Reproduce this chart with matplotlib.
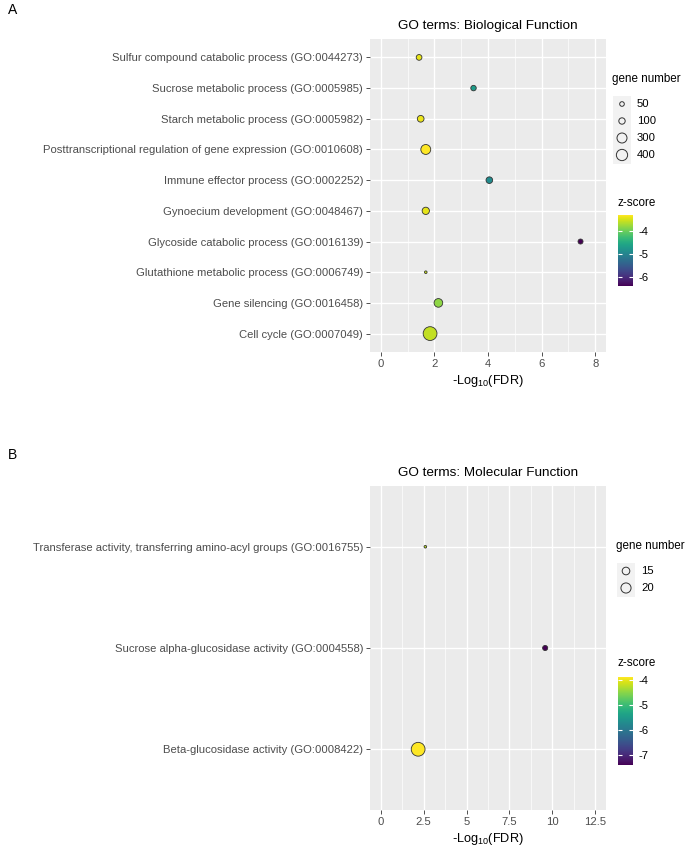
import numpy as np
import matplotlib.pyplot as plt
from matplotlib import colors, cm
from matplotlib.patches import Rectangle

plt.rcParams['font.family'] = ['Liberation Sans', 'DejaVu Sans']
plt.rcParams['mathtext.fontset'] = 'custom'
plt.rcParams['mathtext.rm'] = 'Liberation Sans'
plt.rcParams['mathtext.it'] = 'Liberation Sans:italic'

# ---- data (top to bottom as shown) ----
bp_terms = ["Sulfur compound catabolic process (GO:0044273)",
            "Sucrose metabolic process (GO:0005985)",
            "Starch metabolic process (GO:0005982)",
            "Posttranscriptional regulation of gene expression (GO:0010608)",
            "Immune effector process (GO:0002252)",
            "Gynoecium development (GO:0048467)",
            "Glycoside catabolic process (GO:0016139)",
            "Glutathione metabolic process (GO:0006749)",
            "Gene silencing (GO:0016458)",
            "Cell cycle (GO:0007049)"]
bp_fdr = [1.43, 3.46, 1.49, 1.68, 4.05, 1.68, 7.45, 1.68, 2.15, 1.84]
bp_genes = [78, 70, 113, 293, 110, 138, 59, 30, 210, 650]
bp_z = [-3.40, -4.69, -3.38, -3.29, -4.91, -3.42, -6.40, -3.55, -3.82, -3.57]
bp_size_breaks = [50, 100, 300, 400]
bp_z_ticks = [-4, -5, -6]

mf_terms = ["Transferase activity, transferring amino-acyl groups (GO:0016755)",
            "Sucrose alpha-glucosidase activity (GO:0004558)",
            "Beta-glucosidase activity (GO:0008422)"]
mf_fdr = [2.6, 9.58, 2.18]
mf_genes = [11, 12, 31]
mf_z = [-4.22, -7.40, -3.87]
mf_size_breaks = [15, 20]
mf_z_ticks = [-4, -5, -6, -7]

W, H = 685, 849
TXT = 8.1
fig = plt.figure(figsize=(W / 100, H / 100), dpi=100)


def fax(x0, y0, x1, y1):
    return fig.add_axes([x0 / W, 1 - y1 / H, (x1 - x0) / W, (y1 - y0) / H])


def diam(n, lo, hi):
    # ggplot-like area scaling, diameter in px
    t = (np.asarray(n, float) - lo) / (hi - lo)
    return 2.6 + 11.2 * np.sqrt(np.clip(t, 0, None))


def to_s(d_px):
    return (np.asarray(d_px) * 72 / 100) ** 2


def panel(box, terms, fdr, genes, z, xmax, xstep, title):
    ax = fax(*box)
    n = len(terms)
    y = np.arange(n)[::-1]
    norm = colors.Normalize(min(z), max(z))
    ax.scatter(fdr, y, s=to_s(diam(genes, min(genes), max(genes))), c=z,
               cmap='viridis', norm=norm, edgecolors='#333333',
               linewidths=0.6, zorder=3)
    ax.set_facecolor('#EBEBEB')
    for sp in ax.spines.values():
        sp.set_visible(False)
    ax.set_xlim(-0.05 * xmax, 1.05 * xmax)
    ax.set_ylim(-0.6, n - 0.4)
    ax.set_yticks(y)
    ax.set_yticklabels(terms)
    major = np.arange(0, xmax + 0.01, xstep)
    ax.set_xticks(major)
    ax.set_xticks(np.arange(xstep / 2, xmax + xstep / 2, xstep), minor=True)
    ax.set_xticklabels(['%g' % v for v in major])
    ax.grid(which='major', color='white', lw=1.0, zorder=0)
    ax.grid(which='minor', axis='x', color='white', lw=0.5, zorder=0)
    ax.set_axisbelow(True)
    ax.tick_params(which='major', length=3, width=0.6, color='#333333',
                   labelsize=TXT, labelcolor='#4D4D4D', pad=2)
    ax.tick_params(which='minor', length=0)
    ax.set_title(title, fontsize=9.7, pad=7)
    ax.set_xlabel(r'-Log$_{10}$(FDR)', fontsize=9.2, labelpad=3)
    return norm


def size_legend(ov, x0, ytitle, ykey0, breaks, lo, hi):
    ov.text(x0, ytitle, 'gene number', fontsize=8.4, va='center', ha='left')
    ov.add_patch(Rectangle((x0 + 1, ykey0 - 8.5), 18, 17 * len(breaks),
                           facecolor='#F2F2F2', edgecolor='none'))
    ys = ykey0 + 17 * np.arange(len(breaks))
    ov.scatter([x0 + 10] * len(breaks), ys, s=to_s(diam(breaks, lo, hi)),
               facecolors='none', edgecolors='#333333', linewidths=0.7)
    for yy, b in zip(ys, breaks):
        ov.text(x0 + 25, yy, str(b), fontsize=TXT, va='center', ha='left')


def zbar(x0, ytitle, ytop, ybot, norm, ticks):
    fig.text(x0 / W, 1 - ytitle / H, 'z-score', fontsize=8.4, va='center')
    cax = fax(x0 + 1, ytop, x0 + 16, ybot)
    cb = fig.colorbar(cm.ScalarMappable(norm=norm, cmap='viridis'), cax=cax)
    cb.outline.set_visible(False)
    cb.set_ticks(ticks)
    cb.ax.set_yticklabels(['%d' % t for t in ticks])
    cb.ax.tick_params(direction='in', length=3, width=0.8, color='white',
                      left=True, right=True, labelsize=TXT, pad=4)


nA = panel((370, 39, 606, 352), bp_terms, bp_fdr, bp_genes, bp_z, 8, 2,
           'GO terms: Biological Function')
nB = panel((370, 486, 606, 810), mf_terms, mf_fdr, mf_genes, mf_z, 12.5, 2.5,
           'GO terms: Molecular Function')

ov = fig.add_axes([0, 0, 1, 1], zorder=5)
ov.set_xlim(0, W)
ov.set_ylim(H, 0)
ov.axis('off')
ov.patch.set_alpha(0)

size_legend(ov, 612, 79, 104, bp_size_breaks, min(bp_genes), max(bp_genes))
size_legend(ov, 616, 546, 571, mf_size_breaks, min(mf_genes), max(mf_genes))
zbar(617, 203, 215, 286, nA, bp_z_ticks)
zbar(617, 663, 677, 765, nB, mf_z_ticks)

fig.text(8 / W, 1 - 10 / H, 'A', fontsize=10, va='center')
fig.text(8 / W, 1 - 455 / H, 'B', fontsize=10, va='center')

fig.savefig('out.png', dpi=100)
